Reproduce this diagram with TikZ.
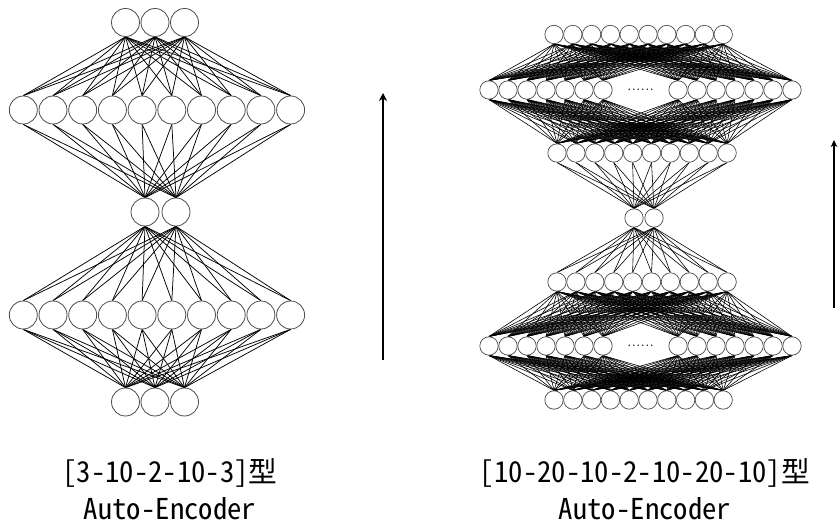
\documentclass[tikz,border=0pt]{standalone}
\usepackage{fontspec}
\newfontfamily\jpfont[RawFeature=+hwid]{Noto Sans CJK JP}
\usetikzlibrary{arrows.meta,backgrounds}
\begin{document}
\begin{tikzpicture}[x=1pt,y=-1pt,
  neuronL/.style={circle,draw=black!70,fill=white,line width=0.8pt,minimum size=28pt,inner sep=0pt},
  neuronR/.style={circle,draw=black!70,fill=white,line width=0.7pt,minimum size=18.4pt,inner sep=0pt},
  edgeL/.style={line width=0.75pt,black},
  edgeR/.style={line width=0.6pt,black},
  caption/.style={font=\jpfont\fontsize{28.7}{30}\selectfont,anchor=base,inner sep=0pt},
  flow/.style={line width=1.4pt,black,-{Stealth[length=8pt,width=8pt,inset=2.5pt]}},
  dotsbox/.style={font=\fontsize{18}{18}\selectfont,inner sep=0pt}]
\useasboundingbox (0,0) rectangle (840,529);

% ---------- left network [3-10-2-10-3] ----------
\foreach \i in {0,1,2} \node[neuronL] (la\i) at ({125.5+29.5*\i},22.5) {};
\foreach \i in {0,...,9} \node[neuronL] (lb\i) at ({23.3+29.7*\i},110) {};
\foreach \i in {0,1} \node[neuronL] (lc\i) at ({145+31*\i},212) {};
\foreach \i in {0,...,9} \node[neuronL] (ld\i) at ({23.3+29.7*\i},315) {};
\foreach \i in {0,1,2} \node[neuronL] (le\i) at ({125.5+29.5*\i},402) {};

\begin{scope}[on background layer]
\foreach \i in {0,1,2} \foreach \j in {0,...,9} \draw[edgeL] (la\i.south) -- (lb\j.north);
\foreach \i in {0,...,9} \foreach \j in {0,1} \draw[edgeL] (lb\i.south) -- (lc\j.north);
\foreach \i in {0,1} \foreach \j in {0,...,9} \draw[edgeL] (lc\i.south) -- (ld\j.north);
\foreach \i in {0,...,9} \foreach \j in {0,1,2} \draw[edgeL] (ld\i.south) -- (le\j.north);
\end{scope}

% ---------- right network [10-20-10-2-10-20-10] ----------
\foreach \i in {0,...,9} \node[neuronR] (ra\i) at ({554+18.8*\i},34.5) {};
\foreach \i in {0,...,6} \node[neuronR] (rb\i) at ({489+19*\i},90) {};
\foreach \i in {7,...,13} \node[neuronR] (rb\i) at ({678+19*(\i-7)},90) {};
\node[dotsbox] (dotsb) at (640.5,90) {......};
\foreach \i in {0,...,9} \node[neuronR] (rc\i) at ({557+18.9*\i},153) {};
\foreach \i in {0,1} \node[neuronR] (rd\i) at ({634+20*\i},218) {};
\foreach \i in {0,...,9} \node[neuronR] (re\i) at ({557+18.9*\i},282) {};
\foreach \i in {0,...,6} \node[neuronR] (rf\i) at ({489+19*\i},346) {};
\foreach \i in {7,...,13} \node[neuronR] (rf\i) at ({678+19*(\i-7)},346) {};
\node[dotsbox] (dotsf) at (640.5,346) {......};
\foreach \i in {0,...,9} \node[neuronR] (rg\i) at ({554+18.8*\i},400) {};

\begin{scope}[on background layer]
\foreach \i in {0,...,9} \foreach \j in {0,...,13} \draw[edgeR] (ra\i.south) -- (rb\j.north);
\foreach \i in {0,...,13} \foreach \j in {0,...,9} \draw[edgeR] (rb\i.south) -- (rc\j.north);
\foreach \i in {0,...,9} \foreach \j in {0,1} \draw[edgeR] (rc\i.south) -- (rd\j.north);
\foreach \i in {0,1} \foreach \j in {0,...,9} \draw[edgeR] (rd\i.south) -- (re\j.north);
\foreach \i in {0,...,9} \foreach \j in {0,...,13} \draw[edgeR] (re\i.south) -- (rf\j.north);
\foreach \i in {0,...,13} \foreach \j in {0,...,9} \draw[edgeR] (rf\i.south) -- (rg\j.north);
\end{scope}

% ---------- arrows ----------
\coordinate (arLs) at (383,360);
\coordinate (arLe) at (383,93);
\draw[flow] (arLs) -- (arLe);
\coordinate (arRs) at (834,308);
\coordinate (arRe) at (834,140);
\draw[flow,line width=1.1pt,-{Stealth[length=7pt,width=6.5pt,inset=2pt]}] (arRs) -- (arRe);

% ---------- captions ----------
\node[caption] (capL1) at (170,482) {[3-10-2-10-3]型};
\node[caption] (capL2) at (170,519) {Auto-Encoder};
\node[caption] (capR1) at (645,482) {[10-20-10-2-10-20-10]型};
\node[caption] (capR2) at (645,519) {Auto-Encoder};
\end{tikzpicture}
\end{document}
